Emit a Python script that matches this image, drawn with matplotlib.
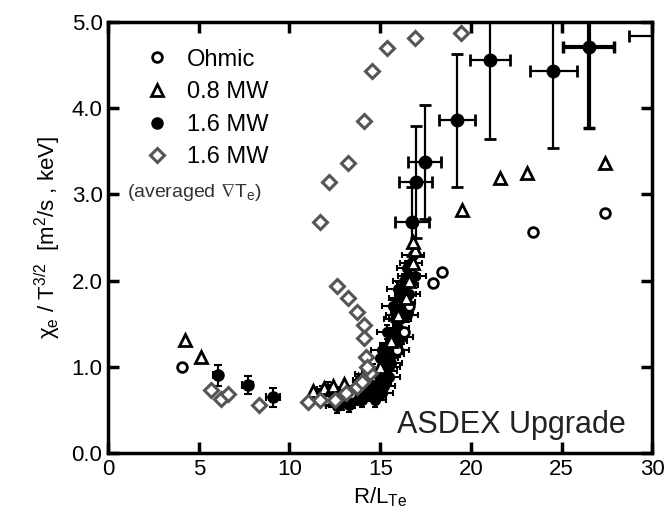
import numpy as np
import matplotlib
matplotlib.use("Agg")
import matplotlib.pyplot as plt
from matplotlib.lines import Line2D

plt.rcParams['font.family'] = ['Liberation Sans', 'DejaVu Sans']
plt.rcParams['mathtext.default'] = 'regular'

# Ohmic (open circles)
ohm_x = [4.1, 18.4, 23.4, 27.4, 17.9, 16.6, 15.9, 13.4, 12.0, 16.3]
ohm_y = [1.00, 2.10, 2.56, 2.78, 1.97, 1.70, 1.20, 0.68, 0.62, 1.40]

# 0.8 MW (open triangles)
tri_x = [4.25, 5.1, 19.5, 21.6, 23.1, 27.4,
         11.3, 11.9, 12.4, 13.0, 13.8, 14.5, 15.0, 15.6, 16.0, 16.4, 16.6, 16.8, 16.9, 16.8]
tri_y = [1.31, 1.11, 2.82, 3.19, 3.25, 3.36,
         0.72, 0.75, 0.78, 0.80, 0.85, 0.90, 1.00, 1.30, 1.60, 1.80, 2.00, 2.20, 2.35, 2.45]

# 1.6 MW, large points with error bars
big_x = [19.25, 21.05, 24.55, 16.95, 17.45, 16.75, 31.0]
big_y = [3.86, 4.56, 4.43, 3.14, 3.38, 2.68, 4.84]
big_xerr = [1.0, 1.1, 1.3, 0.9, 0.9, 0.95, 2.3]
big_yerr = [0.77, 0.92, 0.89, 0.65, 0.66, 0.40, 0.0]
thick_x = [26.5]
thick_y = [4.71]
thick_xerr = [1.4]
thick_yerr = [0.94]

# 1.6 MW, low gradient points and dense cluster
low_x = [6.05, 7.7, 9.1]
low_y = [0.90, 0.79, 0.65]
low_xerr = [0.25, 0.3, 0.4]
low_yerr = [0.12, 0.10, 0.11]

cl_x = [12.3, 12.6, 12.9, 13.2, 13.5, 13.8, 14.0, 14.2, 14.4, 14.6, 14.8, 15.0, 15.2, 14.9,
        15.3, 15.5, 15.4, 15.7, 15.6, 15.9, 15.8, 16.0, 16.1, 15.9, 16.2, 16.3, 16.1, 16.4,
        16.5, 16.3, 16.6, 16.5, 16.7, 16.8, 11.8, 12.1, 13.0, 13.6, 14.1, 14.6, 15.1, 15.4,
        15.7, 16.0,
        12.8, 13.4, 13.9, 14.3, 14.9, 15.6, 16.2, 16.5, 16.0, 15.5, 15.1, 14.7, 13.3, 12.5,
        14.5, 15.8, 16.6, 16.9, 15.0, 14.2]
cl_y = [0.62, 0.55, 0.58, 0.62, 0.60, 0.66, 0.62, 0.70, 0.68, 0.75, 0.72, 0.82, 0.78, 0.90,
        0.95, 1.00, 1.10, 1.15, 1.25, 1.30, 1.40, 1.45, 1.55, 1.60, 1.65, 1.75, 1.80, 1.85,
        1.95, 2.00, 2.05, 2.15, 2.20, 2.30, 0.70, 0.74, 0.72, 0.75, 0.85, 0.95, 1.20, 1.40,
        1.70, 1.90,
        0.66, 0.70, 0.72, 0.78, 0.85, 1.05, 1.35, 1.60, 1.20, 0.88, 0.70, 0.62, 0.56, 0.68,
        0.82, 1.55, 1.85, 2.05, 1.10, 0.92]
cl_xerr = 0.6
cl_yerr = 0.08

# 1.6 MW averaged gradient (grey diamonds)
dia_x = [11.7, 12.2, 13.2, 14.1, 14.55, 15.4, 16.9, 19.45,
         12.6, 13.2, 13.7, 14.1, 14.1, 14.2, 14.45, 13.7, 13.1, 12.5, 11.0, 11.7,
         5.65, 6.2, 6.6, 8.3, 14.3, 14.0]
dia_y = [2.68, 3.14, 3.36, 3.85, 4.43, 4.70, 4.81, 4.87,
         1.94, 1.80, 1.64, 1.49, 1.33, 1.11, 0.93, 0.77, 0.70, 0.61, 0.59, 0.61,
         0.73, 0.63, 0.68, 0.56, 1.00, 0.82]

fig = plt.figure(figsize=(6.67, 5.22), dpi=100)
ax = fig.add_axes([0.162, 0.132, 0.816, 0.826])

ax.errorbar(cl_x, cl_y, xerr=cl_xerr, yerr=cl_yerr, fmt='o', color='black', ms=7,
            elinewidth=1.5, capsize=2.5, capthick=1.5, zorder=3)
ax.errorbar(low_x, low_y, xerr=low_xerr, yerr=low_yerr, fmt='o', color='black', ms=8,
            elinewidth=1.5, capsize=3, capthick=1.5, zorder=3)
ax.errorbar(big_x, big_y, xerr=big_xerr, yerr=big_yerr, fmt='o', color='black', ms=9,
            elinewidth=1.6, capsize=4, capthick=2, zorder=3)
ax.errorbar(thick_x, thick_y, xerr=thick_xerr, yerr=thick_yerr, fmt='o', color='black', ms=9,
            elinewidth=3, capsize=4, capthick=2.5, zorder=3)

ax.plot(ohm_x, ohm_y, 'o', ms=7, mfc='white', mec='black', mew=2, zorder=4)
ax.plot(tri_x, tri_y, '^', ms=8, mfc='white', mec='black', mew=2, zorder=4)
ax.plot(dia_x, dia_y, 'D', ms=7, mfc='white', mec='#555555', mew=2.2, zorder=5)

ax.set_xlim(0, 30)
ax.set_ylim(0, 5)
ax.set_xticks([0, 5, 10, 15, 20, 25, 30])
ax.set_yticks([0, 1, 2, 3, 4, 5])
ax.set_yticklabels(['0.0', '1.0', '2.0', '3.0', '4.0', '5.0'])
ax.tick_params(direction='in', length=8, width=2.5, labelsize=16, top=True, right=True, pad=4)
for s in ax.spines.values():
    s.set_linewidth(2.5)

ax.set_xlabel('R/L$_{Te}$', fontsize=16, labelpad=4)
ax.set_ylabel(r'$\chi_e$ / T$^{3/2}$  [m$^2$/s , keV]', fontsize=16, labelpad=6)

handles = [
    Line2D([], [], ls='none', marker='o', ms=7, mfc='white', mec='black', mew=2),
    Line2D([], [], ls='none', marker='^', ms=8, mfc='white', mec='black', mew=2),
    Line2D([], [], ls='none', marker='o', ms=8, color='black'),
    Line2D([], [], ls='none', marker='D', ms=7, mfc='white', mec='#555555', mew=2.2),
]
ax.legend(handles, ['Ohmic', '0.8 MW', '1.6 MW', '1.6 MW'], loc='upper left',
          bbox_to_anchor=(0.05, 0.96), frameon=False, fontsize=17, handlelength=1.0,
          handletextpad=0.8, labelspacing=0.45, borderaxespad=0)
ax.text(0.035, 0.605, r'(averaged $\nabla$T$_e$)', transform=ax.transAxes, fontsize=14,
        color='#333333', va='center')
ax.text(15.9, 0.33, 'ASDEX Upgrade', fontsize=22, va='center', ha='left', color='#222222')

fig.savefig('out.png', dpi=100)
